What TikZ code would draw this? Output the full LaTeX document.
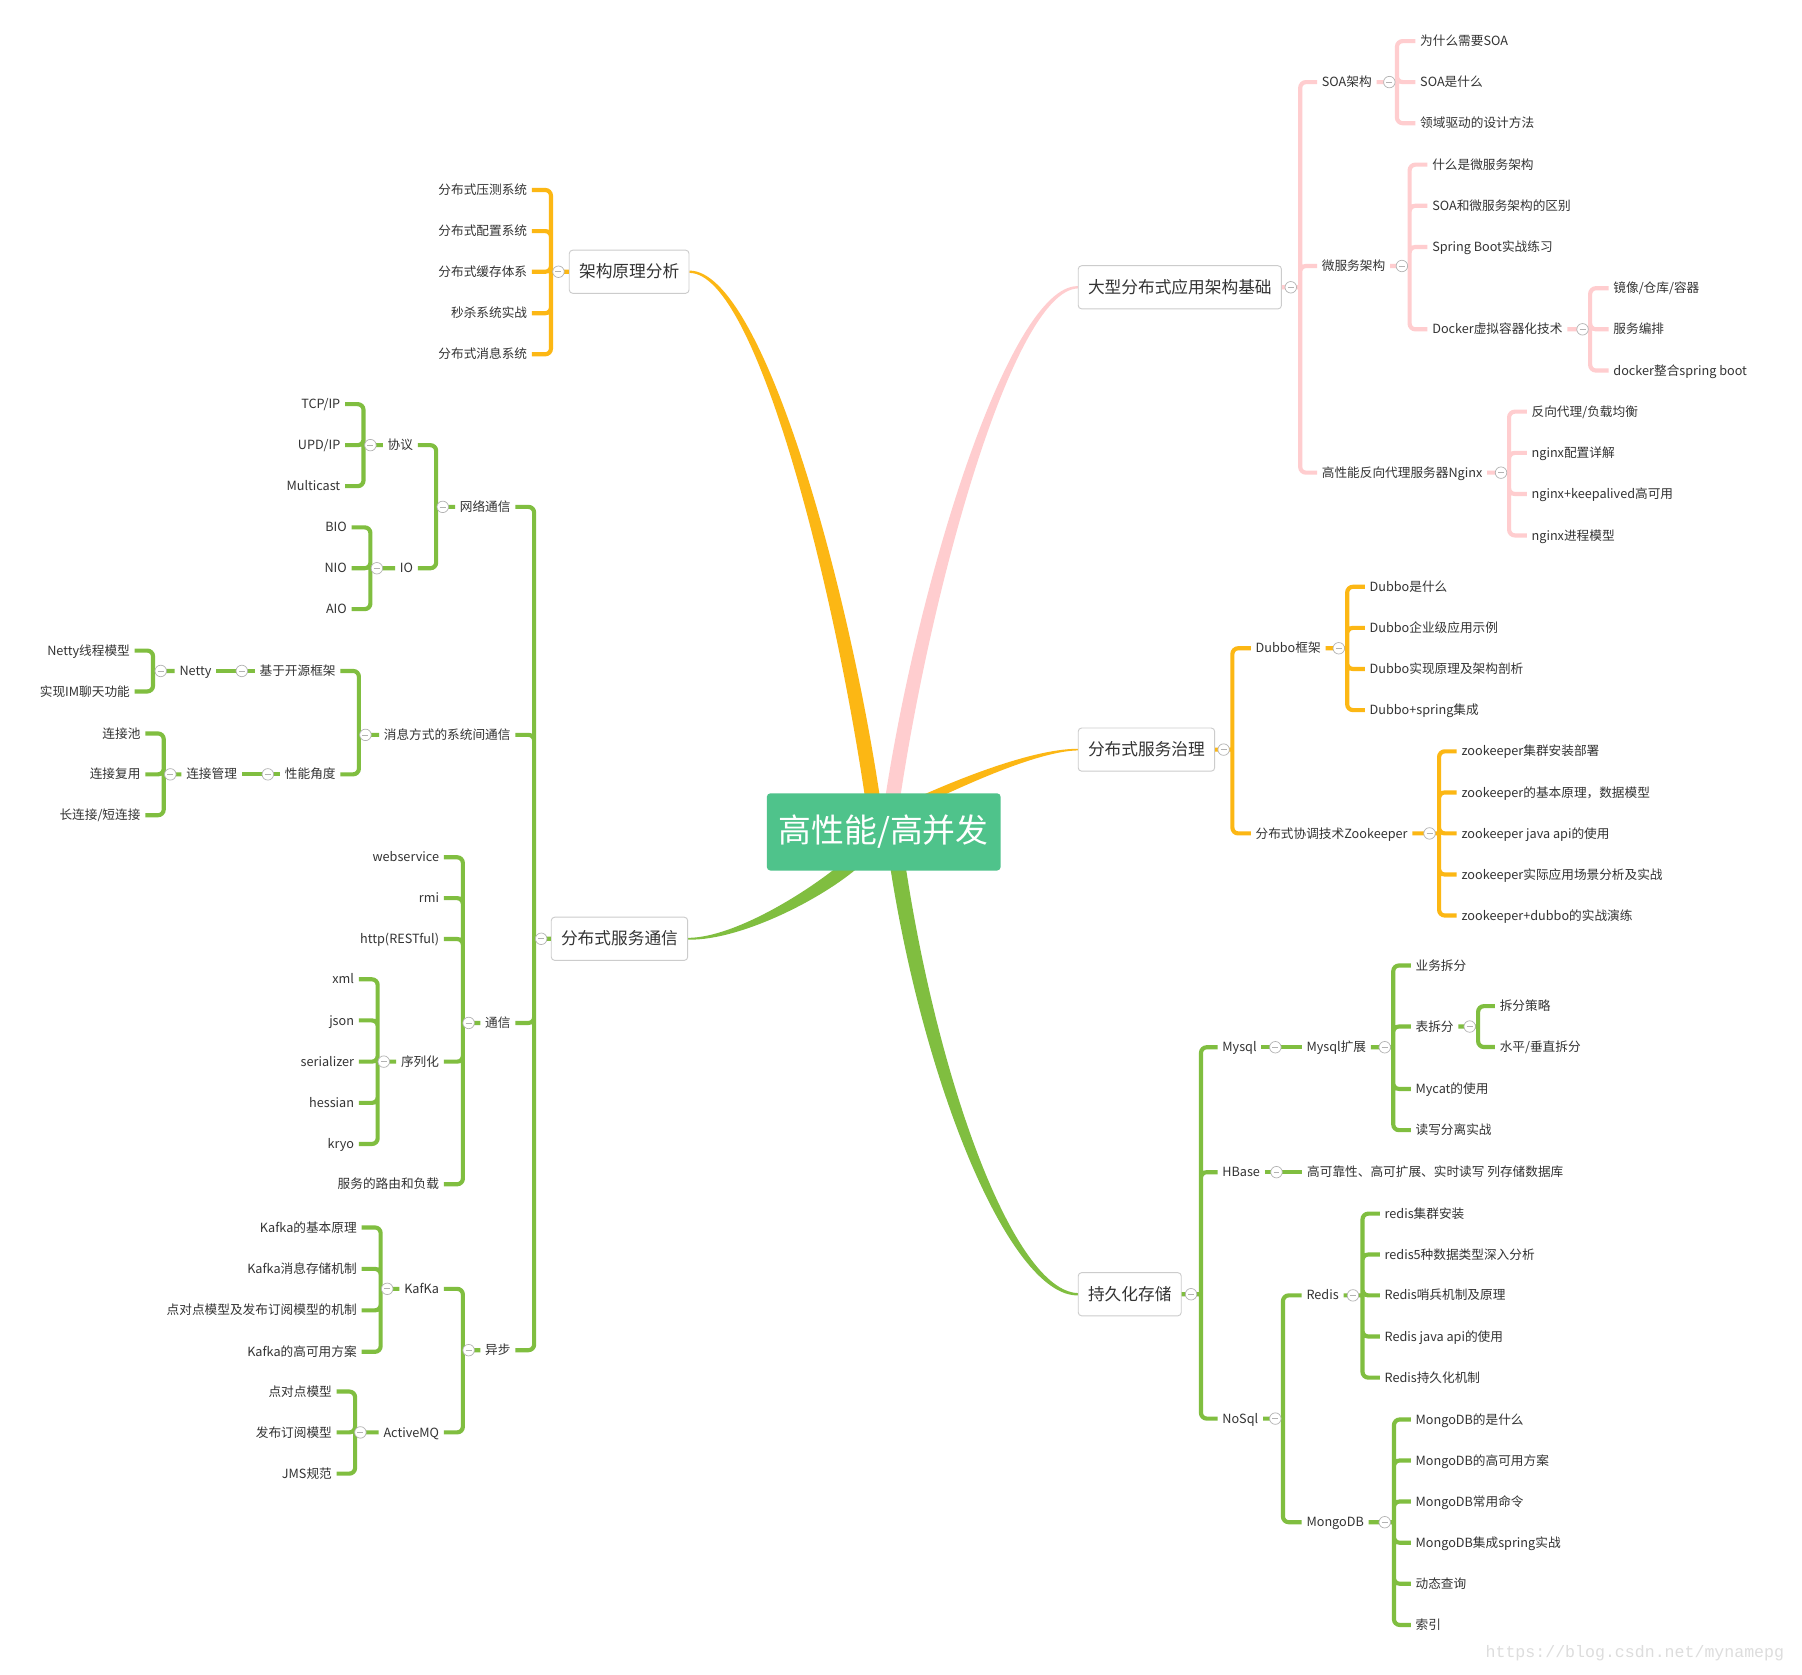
\documentclass[tikz,border=0pt]{standalone}
\usepackage{fontspec}
\setmainfont{Noto Sans CJK SC}
\newfontfamily\markfont{Liberation Mono}
\usetikzlibrary{calc}

\definecolor{ink}{RGB}{51,51,51}
\definecolor{frame}{RGB}{204,204,204}
\definecolor{knob}{RGB}{178,178,178}
\definecolor{amber}{RGB}{252,183,20}
\definecolor{blush}{RGB}{255,205,207}
\definecolor{sprout}{RGB}{128,190,64}
\definecolor{hubfill}{RGB}{79,195,139}
\definecolor{faint}{RGB}{221,221,221}

\pgfdeclarelayer{back}
\pgfsetlayers{back,main}

\tikzset{
    leaf/.style = {
        font=\fontsize{11}{13}\selectfont,
        text=ink,
        inner xsep=4pt,
        inner ysep=1pt,
        text height=9.5pt,
        text depth=1.5pt
    },
    lleaf/.style = {leaf, anchor=east},
    rleaf/.style = {leaf, anchor=west},
    topic/.style = {
        draw=frame,
        fill=white,
        line width=0.8pt,
        rounded corners=3pt,
        font=\fontsize{14.5}{16}\selectfont,
        text=ink,
        inner xsep=8.5pt,
        inner ysep=0pt,
        minimum height=37.5pt,
        text height=12.5pt,
        text depth=2pt
    },
    hubbox/.style = {
        fill=hubfill,
        rounded corners=3pt,
        text=white,
        font=\fontsize{28.5}{30}\selectfont,
        minimum width=203pt,
        minimum height=67pt,
        inner sep=0pt
    },
    yl/.style = {draw=amber, line width=3.6pt, rounded corners=5pt},
    pk/.style = {draw=blush, line width=3.6pt, rounded corners=5pt},
    gr/.style = {draw=sprout, line width=3.6pt, rounded corners=5pt},
    fold/.style = {
        circle,
        draw=knob,
        fill=white,
        line width=0.6pt,
        minimum size=10pt,
        inner sep=0pt,
        path picture={\draw[knob, line width=0.6pt]
            ([xshift=-2.6pt]path picture bounding box.center) --
            ([xshift=2.6pt]path picture bounding box.center);}
    }
}

\begin{document}
\begin{tikzpicture}[x=1pt, y=-1pt]
    \useasboundingbox (0,0) rectangle (1565,1454);

    % Centre and main topics
    \node[hubbox] (hub) at (767.5,722.5) {高性能/高并发};
    \node[topic, anchor=west] (arch) at (494,236) {架构原理分析};
    \node[topic, anchor=west] (big) at (936,249.5) {大型分布式应用架构基础};
    \node[topic, anchor=west] (gov) at (936,651) {分布式服务治理};
    \node[topic] (comm) at (538,815.3) {分布式服务通信};
    \node[topic, anchor=west] (store) at (936,1124) {持久化存储};

    % Draw the main branches
    \begin{pgfonlayer}{back}
        \fill[white] (0,0) rectangle (1565,1454);
        \fill[amber] ([yshift=1pt]arch.east) .. controls +(65,0) and +(-26,-190) .. ($(hub)+(-0.5,-10.5)$)
            -- ($(hub)+(-13.5,-10.5)$) .. controls +(-26,-190) and +(59,0) .. ([yshift=-1pt]arch.east) -- cycle;
        \fill[blush] ([yshift=1pt]big.west) .. controls +(-60,-1) and +(28,-200) .. ($(hub)+(-1.5,-10.5)$)
            -- ($(hub)+(11.5,-10.5)$) .. controls +(28,-200) and +(-56,2) .. ([yshift=-1pt]big.west) -- cycle;
        \fill[amber] ([yshift=0.7pt]gov.west) .. controls +(-43,0) and +(30,-14) .. ($(hub)+(20.8,-26.1)$)
            -- ($(hub)+(24.2,-18.9)$) .. controls +(30,-14) and +(-39,0.8) .. ([yshift=-0.7pt]gov.west) -- cycle;
        \fill[sprout] ([yshift=0.8pt]comm.east) .. controls +(42.6,-0.2) and +(-30,28) .. ($(hub)+(-26.5,18.5)$)
            -- ($(hub)+(-18.5,27.5)$) .. controls +(-30,28) and +(47.6,0.7) .. ([yshift=-0.8pt]comm.east) -- cycle;
        \fill[sprout] ([yshift=1pt]store.west) .. controls +(-56,-2) and +(28,200) .. ($(hub)+(16.5,12.5)$)
            -- ($(hub)+(3,12.5)$) .. controls +(28,200) and +(-60,1) .. ([yshift=-1pt]store.west) -- cycle;
    \end{pgfonlayer}

    % Architecture topics
    \node[lleaf] (a1) at (462,165) {分布式压测系统};
    \node[lleaf] (a2) at (462,200.7) {分布式配置系统};
    \node[lleaf] (a3) at (462,236) {分布式缓存体系};
    \node[lleaf] (a4) at (462,272) {秒杀系统实战};
    \node[lleaf] (a5) at (462,307.7) {分布式消息系统};

    % Large distributed application topics
    \node[rleaf] (soa) at (1143.8,71.3) {SOA架构};
    \node[rleaf] (micro) at (1143.8,231) {微服务架构};
    \node[rleaf] (nginx) at (1143.8,410.5) {高性能反向代理服务器Nginx};
    \node[rleaf] (s1) at (1229.2,35.7) {为什么需要SOA};
    \node[rleaf] (s2) at (1229.2,71.3) {SOA是什么};
    \node[rleaf] (s3) at (1229.2,107) {领域驱动的设计方法};
    \node[rleaf] (m1) at (1239.7,143) {什么是微服务架构};
    \node[rleaf] (m2) at (1239.7,178.7) {SOA和微服务架构的区别};
    \node[rleaf] (m3) at (1239.7,214.5) {Spring Boot实战练习};
    \node[rleaf] (dock) at (1239.7,286) {Docker虚拟容器化技术};
    \node[rleaf] (d1) at (1397,250.3) {镜像/仓库/容器};
    \node[rleaf] (d2) at (1397,286) {服务编排};
    \node[rleaf] (d3) at (1397,321.8) {docker整合spring boot};
    \node[rleaf] (n1) at (1326,357.5) {反向代理/负载均衡};
    \node[rleaf] (n2) at (1326,393.3) {nginx配置详解};
    \node[rleaf] (n3) at (1326,429) {nginx+keepalived高可用};
    \node[rleaf] (n4) at (1326,465) {nginx进程模型};

    % Service governance topics
    \node[rleaf] (dubbo) at (1086.3,563) {Dubbo框架};
    \node[rleaf] (zk) at (1086.3,723.8) {分布式协调技术Zookeeper};
    \node[rleaf] (b1) at (1185.3,509.6) {Dubbo是什么};
    \node[rleaf] (b2) at (1185.3,545.3) {Dubbo企业级应用示例};
    \node[rleaf] (b3) at (1185.3,581) {Dubbo实现原理及架构剖析};
    \node[rleaf] (b4) at (1185.3,616.7) {Dubbo+spring集成};
    \node[rleaf] (z1) at (1265.1,652.5) {zookeeper集群安装部署};
    \node[rleaf] (z2) at (1265.1,688.2) {zookeeper的基本原理，数据模型};
    \node[rleaf] (z3) at (1265.1,723.8) {zookeeper java api的使用};
    \node[rleaf] (z4) at (1265.1,759.5) {zookeeper实际应用场景分析及实战};
    \node[rleaf] (z5) at (1265.1,795.1) {zookeeper+dubbo的实战演练};

    % Storage topics
    \node[rleaf] (mysql) at (1057.4,909.5) {Mysql};
    \node[rleaf] (hbase) at (1057.4,1018) {HBase};
    \node[rleaf] (nosql) at (1057.4,1232) {NoSql};
    \node[rleaf] (mysqlx) at (1130.5,909.5) {Mysql扩展};
    \node[rleaf] (x1) at (1225.2,838.5) {业务拆分};
    \node[rleaf] (tbl) at (1225.2,891.5) {表拆分};
    \node[rleaf] (x3) at (1225.2,945.7) {Mycat的使用};
    \node[rleaf] (x4) at (1225.2,981.5) {读写分离实战};
    \node[rleaf] (t1) at (1298.3,873.8) {拆分策略};
    \node[rleaf] (t2) at (1298.3,909.3) {水平/垂直拆分};
    \node[rleaf] (hb1) at (1131.1,1018) {高可靠性、高可扩展、实时读写 列存储数据库};
    \node[rleaf] (redis) at (1130.5,1125) {Redis};
    \node[rleaf] (mongo) at (1130.5,1322) {MongoDB};
    \node[rleaf] (r1) at (1198.3,1054) {redis集群安装};
    \node[rleaf] (r2) at (1198.3,1089.5) {redis5种数据类型深入分析};
    \node[rleaf] (r3) at (1198.3,1125) {Redis哨兵机制及原理};
    \node[rleaf] (r4) at (1198.3,1160.7) {Redis java api的使用};
    \node[rleaf] (r5) at (1198.3,1196.4) {Redis持久化机制};
    \node[rleaf] (g1) at (1225.2,1232.8) {MongoDB的是什么};
    \node[rleaf] (g2) at (1225.2,1268.4) {MongoDB的高可用方案};
    \node[rleaf] (g3) at (1225.2,1304) {MongoDB常用命令};
    \node[rleaf] (g4) at (1225.2,1339.8) {MongoDB集成spring实战};
    \node[rleaf] (g5) at (1225.2,1375.4) {动态查询};
    \node[rleaf] (g6) at (1225.2,1411.2) {索引};

    % Service communication topics
    \node[lleaf] (net) at (447.6,440.2) {网络通信};
    \node[lleaf] (msg) at (447.6,638.2) {消息方式的系统间通信};
    \node[lleaf] (tx) at (447.6,888.4) {通信};
    \node[lleaf] (async) at (447.6,1172.6) {异步};
    \node[lleaf] (proto) at (362.9,386.6) {协议};
    \node[lleaf] (io) at (362.9,493.5) {IO};
    \node[lleaf] (p1) at (299.7,351) {TCP/IP};
    \node[lleaf] (p2) at (299.7,386.6) {UPD/IP};
    \node[lleaf] (p3) at (299.7,422.2) {Multicast};
    \node[lleaf] (i1) at (305.4,458) {BIO};
    \node[lleaf] (i2) at (305.4,493.5) {NIO};
    \node[lleaf] (i3) at (305.4,529) {AIO};
    \node[lleaf] (oss) at (295.7,582.7) {基于开源框架};
    \node[lleaf] (perf) at (295.7,672.5) {性能角度};
    \node[lleaf] (netty) at (187.8,582.7) {Netty};
    \node[lleaf] (e1) at (117,565) {Netty线程模型};
    \node[lleaf] (e2) at (117,600.5) {实现IM聊天功能};
    \node[lleaf] (conn) at (210,672.5) {连接管理};
    \node[lleaf] (c1) at (126.2,637) {连接池};
    \node[lleaf] (c2) at (126.2,672.5) {连接复用};
    \node[lleaf] (c3) at (126.2,708) {长连接/短连接};
    \node[lleaf] (w1) at (385.5,744.5) {webservice};
    \node[lleaf] (w2) at (385.5,780) {rmi};
    \node[lleaf] (w3) at (385.5,815.5) {http(RESTful)};
    \node[lleaf] (ser) at (385.5,922) {序列化};
    \node[lleaf] (w5) at (385.5,1028.5) {服务的路由和负载};
    \node[lleaf] (k1) at (311.7,850.5) {xml};
    \node[lleaf] (k2) at (311.7,886.2) {json};
    \node[lleaf] (k3) at (311.7,922) {serializer};
    \node[lleaf] (k4) at (311.7,957.8) {hessian};
    \node[lleaf] (k5) at (311.7,993.5) {kryo};
    \node[lleaf] (kafka) at (385.5,1119.3) {KafKa};
    \node[lleaf] (amq) at (385.5,1244) {ActiveMQ};
    \node[lleaf] (f1) at (314,1066) {Kafka的基本原理};
    \node[lleaf] (f2) at (314,1102) {Kafka消息存储机制};
    \node[lleaf] (f3) at (314,1138) {点对点模型及发布订阅模型的机制};
    \node[lleaf] (f4) at (314,1174) {Kafka的高可用方案};
    \node[lleaf] (q1) at (292.4,1208.5) {点对点模型};
    \node[lleaf] (q2) at (292.4,1244) {发布订阅模型};
    \node[lleaf] (q3) at (292.4,1279.8) {JMS规范};

    % Bar positions
    \coordinate (archB) at (478.5,236);
    \coordinate (bigB) at (1129.2,249.5);
    \coordinate (soaB) at (1213.2,71.3);
    \coordinate (microB) at (1224.2,231);
    \coordinate (dockB) at (1381,286);
    \coordinate (nginxB) at (1310.6,410.5);
    \coordinate (govB) at (1070.3,651);
    \coordinate (dubboB) at (1170,563);
    \coordinate (zkB) at (1249.8,723.8);
    \coordinate (storeB) at (1043,1124);
    \coordinate (mysqlxB) at (1210,909.5);
    \coordinate (tblB) at (1283.7,891.5);
    \coordinate (nosqlB) at (1114.2,1232);
    \coordinate (redisB) at (1183.3,1125);
    \coordinate (mongoB) at (1210.6,1322);
    \coordinate (commB) at (463.9,815.3);
    \coordinate (netB) at (378.8,440.2);
    \coordinate (protoB) at (315.7,386.6);
    \coordinate (ioB) at (321.7,493.5);
    \coordinate (msgB) at (311.7,638.2);
    \coordinate (nettyB) at (132.9,582.7);
    \coordinate (connB) at (142.2,672.5);
    \coordinate (txB) at (402,888.4);
    \coordinate (serB) at (328,922);
    \coordinate (asyncB) at (402,1172.6);
    \coordinate (kafkaB) at (330.6,1119.3);
    \coordinate (amqB) at (308.4,1244);

    % Draw all sub branches
    \draw[yl] (arch.west) -- (archB) (archB) |- (a1.east) (archB) |- (a2.east) (archB) |- (a3.east)
        (archB) |- (a4.east) (archB) |- (a5.east);

    \draw[pk] (big.east) -- (bigB) (bigB) |- (soa.west) (bigB) |- (micro.west) (bigB) |- (nginx.west);
    \draw[pk] (soa.east) -- (soaB) (soaB) |- (s1.west) (soaB) |- (s2.west) (soaB) |- (s3.west);
    \draw[pk] (micro.east) -- (microB) (microB) |- (m1.west) (microB) |- (m2.west) (microB) |- (m3.west)
        (microB) |- (dock.west);
    \draw[pk] (dock.east) -- (dockB) (dockB) |- (d1.west) (dockB) |- (d2.west) (dockB) |- (d3.west);
    \draw[pk] (nginx.east) -- (nginxB) (nginxB) |- (n1.west) (nginxB) |- (n2.west) (nginxB) |- (n3.west)
        (nginxB) |- (n4.west);

    \draw[yl] (gov.east) -- (govB) (govB) |- (dubbo.west) (govB) |- (zk.west);
    \draw[yl] (dubbo.east) -- (dubboB) (dubboB) |- (b1.west) (dubboB) |- (b2.west) (dubboB) |- (b3.west)
        (dubboB) |- (b4.west);
    \draw[yl] (zk.east) -- (zkB) (zkB) |- (z1.west) (zkB) |- (z2.west) (zkB) |- (z3.west)
        (zkB) |- (z4.west) (zkB) |- (z5.west);

    \draw[gr] (store.east) -- (storeB) (storeB) |- (mysql.west) (storeB) |- (hbase.west) (storeB) |- (nosql.west);
    \draw[gr] (mysql.east) -- (mysqlx.west);
    \draw[gr] (mysqlx.east) -- (mysqlxB) (mysqlxB) |- (x1.west) (mysqlxB) |- (tbl.west) (mysqlxB) |- (x3.west)
        (mysqlxB) |- (x4.west);
    \draw[gr] (tbl.east) -- (tblB) (tblB) |- (t1.west) (tblB) |- (t2.west);
    \draw[gr] (hbase.east) -- (hb1.west);
    \draw[gr] (nosql.east) -- (nosqlB) (nosqlB) |- (redis.west) (nosqlB) |- (mongo.west);
    \draw[gr] (redis.east) -- (redisB) (redisB) |- (r1.west) (redisB) |- (r2.west) (redisB) |- (r3.west)
        (redisB) |- (r4.west) (redisB) |- (r5.west);
    \draw[gr] (mongo.east) -- (mongoB) (mongoB) |- (g1.west) (mongoB) |- (g2.west) (mongoB) |- (g3.west)
        (mongoB) |- (g4.west) (mongoB) |- (g5.west) (mongoB) |- (g6.west);

    \draw[gr] (comm.west) -- (commB) (commB) |- (net.east) (commB) |- (msg.east) (commB) |- (tx.east)
        (commB) |- (async.east);
    \draw[gr] (net.west) -- (netB) (netB) |- (proto.east) (netB) |- (io.east);
    \draw[gr] (proto.west) -- (protoB) (protoB) |- (p1.east) (protoB) |- (p2.east) (protoB) |- (p3.east);
    \draw[gr] (io.west) -- (ioB) (ioB) |- (i1.east) (ioB) |- (i2.east) (ioB) |- (i3.east);
    \draw[gr] (msg.west) -- (msgB) (msgB) |- (oss.east) (msgB) |- (perf.east);
    \draw[gr] (oss.west) -- (netty.east);
    \draw[gr] (netty.west) -- (nettyB) (nettyB) |- (e1.east) (nettyB) |- (e2.east);
    \draw[gr] (perf.west) -- (conn.east);
    \draw[gr] (conn.west) -- (connB) (connB) |- (c1.east) (connB) |- (c2.east) (connB) |- (c3.east);
    \draw[gr] (tx.west) -- (txB) (txB) |- (w1.east) (txB) |- (w2.east) (txB) |- (w3.east)
        (txB) |- (ser.east) (txB) |- (w5.east);
    \draw[gr] (ser.west) -- (serB) (serB) |- (k1.east) (serB) |- (k2.east) (serB) |- (k3.east)
        (serB) |- (k4.east) (serB) |- (k5.east);
    \draw[gr] (async.west) -- (asyncB) (asyncB) |- (kafka.east) (asyncB) |- (amq.east);
    \draw[gr] (kafka.west) -- (kafkaB) (kafkaB) |- (f1.east) (kafkaB) |- (f2.east) (kafkaB) |- (f3.east)
        (kafkaB) |- (f4.east);
    \draw[gr] (amq.west) -- (amqB) (amqB) |- (q1.east) (amqB) |- (q2.east) (amqB) |- (q3.east);

    % Fold markers
    \node[fold] (archF) at (485,236) {};
    \node[fold] (bigF) at (1121,249.5) {};
    \node[fold] (soaF) at (1206.6,71.3) {};
    \node[fold] (microF) at (1217.5,231) {};
    \node[fold] (dockF) at (1374.4,286) {};
    \node[fold] (nginxF) at (1303.6,410.5) {};
    \node[fold] (govF) at (1062.7,651) {};
    \node[fold] (dubboF) at (1162.7,563) {};
    \node[fold] (zkF) at (1241.5,723.8) {};
    \node[fold] (storeF) at (1034.4,1124) {};
    \node[fold] (mysqlF) at (1107.6,909.5) {};
    \node[fold] (mysqlxF) at (1202.6,909.5) {};
    \node[fold] (tblF) at (1276.4,891.5) {};
    \node[fold] (hbaseF) at (1108.6,1018) {};
    \node[fold] (nosqlF) at (1107.6,1232) {};
    \node[fold] (redisF) at (1175,1125) {};
    \node[fold] (mongoF) at (1202.6,1322) {};
    \node[fold] (commF) at (470,815.3) {};
    \node[fold] (netF) at (384.5,440.2) {};
    \node[fold] (protoF) at (321.7,386.6) {};
    \node[fold] (ioF) at (327.3,493.5) {};
    \node[fold] (msgF) at (317.4,638.2) {};
    \node[fold] (ossF) at (210,582.7) {};
    \node[fold] (nettyF) at (139.6,582.7) {};
    \node[fold] (perfF) at (232.6,672.5) {};
    \node[fold] (connF) at (147.9,672.5) {};
    \node[fold] (txF) at (407,888.4) {};
    \node[fold] (serF) at (333.3,922) {};
    \node[fold] (asyncF) at (407,1172.6) {};
    \node[fold] (kafkaF) at (336.3,1119.3) {};
    \node[fold] (amqF) at (313,1244) {};

    % Watermark
    \node[anchor=east, font=\markfont\fontsize{14.4}{16}\selectfont, text=faint] (mark) at (1553,1436)
        {https://blog.csdn.net/mynamepg};
\end{tikzpicture}
\end{document}
